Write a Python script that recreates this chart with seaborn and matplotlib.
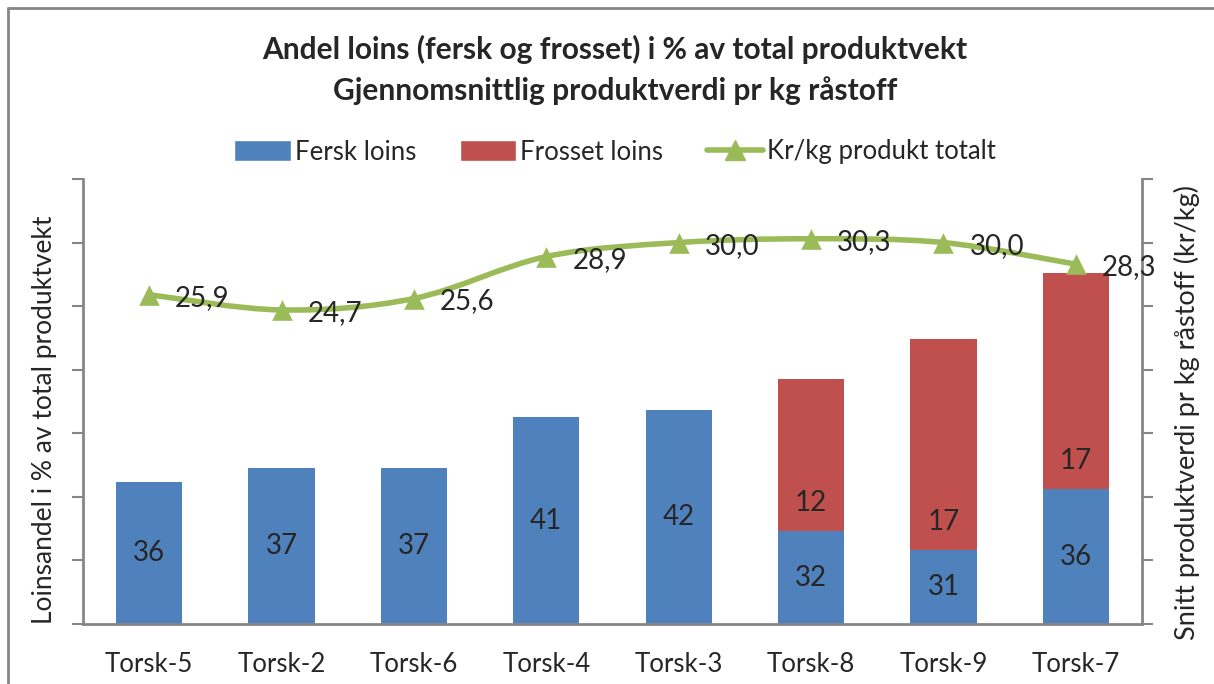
import numpy as np
import pandas as pd
import matplotlib
matplotlib.use("Agg")
import matplotlib.pyplot as plt
from matplotlib.path import Path
from matplotlib.patches import PathPatch
from matplotlib.lines import Line2D
from matplotlib.patches import Patch
import seaborn as sns

categories = ["Torsk-5", "Torsk-2", "Torsk-6", "Torsk-4", "Torsk-3", "Torsk-8", "Torsk-9", "Torsk-7"]
fersk = [36.2, 37.3, 37.3, 41.25, 41.8, 32.3, 30.8, 35.6]
frosset = [0, 0, 0, 0, 0, 12.0, 16.6, 17.0]
kr_kg = [25.9, 24.7, 25.6, 28.9, 30.0, 30.3, 30.0, 28.3]

blue = "#4F81BD"
red = "#C0504D"
green = "#9BBB59"
grey = "#868686"

sns.set_style("white")
plt.rcParams["font.family"] = ["Lato", "DejaVu Sans"]

fig = plt.figure(figsize=(12.14, 6.84), dpi=100)
ax = fig.add_axes([83 / 1214, 1 - 624 / 684, (1142 - 83) / 1214, (624 - 179) / 684])

df = pd.DataFrame({"cat": categories, "fersk": fersk, "frosset": frosset})
df["total"] = df["fersk"] + df["frosset"]

sns.barplot(data=df, x="cat", y="total", color=red, saturation=1, width=0.5,
            linewidth=0, ax=ax, order=categories)
sns.barplot(data=df, x="cat", y="fersk", color=blue, saturation=1, width=0.5,
            linewidth=0, ax=ax, order=categories)

ax.set_ylim(25, 60)
ax.set_yticks(np.arange(25, 61, 5))
ax.set_yticklabels([])
ax.set_xlim(-0.5, len(categories) - 0.5)
ax.set_xlabel("")
ax.set_ylabel("Loinsandel i % av total produktvekt", fontsize=19, va="center")
ax.yaxis.set_label_coords(-0.0359, 0.458)
ax.tick_params(axis="x", length=0, labelsize=18.5, pad=20)
ax.tick_params(axis="y", direction="out", length=8, width=1.5, color=grey, left=True)
for s in ["left", "bottom"]:
    ax.spines[s].set_color(grey)
    ax.spines[s].set_linewidth(2)
ax.spines["top"].set_visible(False)
ax.spines["right"].set_visible(False)

# bar labels
lbl_size = 20
for i, (f, r) in enumerate(zip(fersk, frosset)):
    ax.text(i, (25 + f) / 2, f"{f:.0f}", ha="center", va="center", fontsize=lbl_size)
    if r > 0:
        ax.text(i, f + 2.2, f"{r:.0f}", ha="center", va="center", fontsize=lbl_size)

# right axis with smoothed line
ax2 = ax.twinx()
ax2.set_position(ax.get_position())
ax2.set_ylim(0, 35)
ax2.set_yticks(np.arange(0, 36, 5))
ax2.set_yticklabels([])
ax2.tick_params(axis="y", direction="out", length=8, width=1.5, color=grey, right=True)
for s in ["left", "bottom", "top"]:
    ax2.spines[s].set_visible(False)
ax2.spines["right"].set_color(grey)
ax2.spines["right"].set_linewidth(2)
ax2.set_ylabel("Snitt produktverdi pr kg råstoff (kr/kg)", fontsize=19.5, va="center")
ax2.yaxis.set_label_coords(1.0425, 0.476)

xs = np.arange(len(kr_kg), dtype=float)
ys = np.array(kr_kg, dtype=float)
pts = np.column_stack([xs, ys])
verts = [pts[0]]
codes = [Path.MOVETO]
n = len(pts)
for i in range(n - 1):
    p0 = pts[i - 1] if i > 0 else pts[i]
    p1 = pts[i]
    p2 = pts[i + 1]
    p3 = pts[i + 2] if i + 2 < n else pts[i + 1]
    c1 = p1 + (p2 - p0) / 6
    c2 = p2 - (p3 - p1) / 6
    verts += [c1, c2, p2]
    codes += [Path.CURVE4] * 3
ax2.add_patch(PathPatch(Path(verts, codes), facecolor="none", edgecolor=green,
                        linewidth=4, capstyle="round", joinstyle="round", zorder=3))
sns.scatterplot(x=xs, y=ys, marker="^", s=220, color=green, edgecolor=green,
                linewidth=0, ax=ax2, zorder=4)
for x, y in zip(xs, ys):
    ax2.annotate(f"{y:.1f}".replace(".", ","), (x, y), xytext=(26, -3),
                 textcoords="offset pixels", ha="left", va="center", fontsize=lbl_size)

fig.suptitle("Andel loins (fersk og frosset) i % av total produktvekt\n"
             "Gjennomsnittlig produktverdi pr kg råstoff",
             x=615 / 1214, y=1 - 35 / 684, va="top", fontsize=21.5, fontweight="bold",
             linespacing=1.5)

handles = [Patch(facecolor=blue), Patch(facecolor=red),
           Line2D([0], [0], color=green, lw=4, marker="^", markersize=14)]
fig.legend(handles, ["Fersk loins", "Frosset loins", "Kr/kg produkt totalt"],
           loc="center", bbox_to_anchor=(615 / 1214, 1 - 152 / 684), ncol=3,
           frameon=False, fontsize=18.5, handlelength=2.2, handleheight=0.9,
           handletextpad=0.15, columnspacing=1.7)

# chart border
fig.add_artist(Line2D([8 / 1214, 8 / 1214], [0, 1 - 8 / 684], color=grey, lw=2))
fig.add_artist(Line2D([8 / 1214, 1], [1 - 8 / 684, 1 - 8 / 684], color=grey, lw=2))

fig.savefig("out.png", dpi=100)
